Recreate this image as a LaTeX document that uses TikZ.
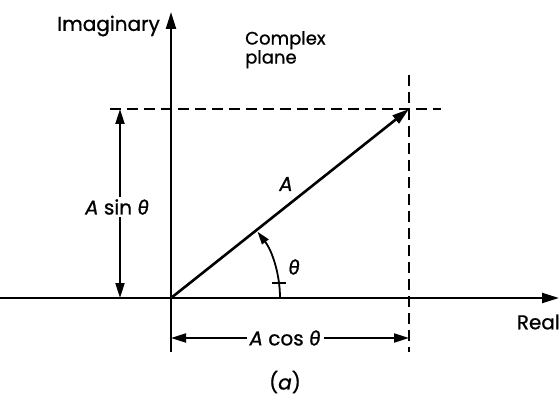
\documentclass[tikz,border=0pt]{standalone}
\usepackage{fontspec}
\setmainfont{Poppins}[FakeBold=0.9]
\newfontfamily\grk{Fira Sans}[FakeBold=0.9]
\usetikzlibrary{arrows.meta}
\tikzset{
  ln/.style={line width=2.3pt},
  dsh/.style={line width=2pt, dash pattern=on 11pt off 6pt},
  tip/.style={-{Triangle[length=17pt,width=10pt]}},
  tips/.style={{Triangle[length=15pt,width=9pt]}-{Triangle[length=15pt,width=9pt]}},
  lbl/.style={font=\fontsize{20}{22}\selectfont, inner sep=2pt},
}
\newcommand{\mytheta}{{\grk\itshape θ}}
\begin{document}
\begin{tikzpicture}[x=1pt,y=1pt]
\useasboundingbox (0,0) rectangle (559,402);
% key points
\coordinate (O) at (171,104);
\coordinate (V) at (409,293);
\coordinate (Itop) at (171,390);
\coordinate (Ibot) at (171,50);
\coordinate (Rl) at (0,104);
\coordinate (Rr) at (559,104);
\coordinate (Hl) at (110,293);
\coordinate (Hr) at (441,293);
\coordinate (Vt) at (409,327);
\coordinate (Vb) at (409,50);
\coordinate (Sa) at (120,293);
\coordinate (Sb) at (120,104);
\coordinate (Ca) at (171,64);
\coordinate (Cb) at (409,64);
% axes
\draw[ln] (Ibot) -- (O);
\draw[ln,tip] (O) -- (Itop);
\draw[ln,tip] (Rl) -- (Rr);
% dashed
\draw[dsh] (Hl) -- (Hr);
\draw[dsh] (Vt) -- (Vb);
% vector
\draw[line width=2.6pt,tip] (O) -- (V);
% angle arc
\draw[line width=1.8pt,-{Triangle[length=13pt,width=8pt]}] ([shift={(0:109)}]O) arc[start angle=0,end angle=37.5,radius=109];
\coordinate (T) at ([shift={(8:109)}]O);
\draw[line width=1.6pt] ([xshift=-7pt]T) -- ([xshift=7pt]T);
% dimension lines
\draw[line width=2pt,tips] (Sa) -- (Sb);
\draw[line width=2pt,tips] (Ca) -- (Cb);
% labels
\node[lbl, anchor=east] (imag) at (162,376) {Imaginary};
\node[lbl, anchor=north west, align=left, font=\fontsize{18}{19}\selectfont] (cplx) at (243,373) {Complex\\plane};
\node[lbl, anchor=east] (real) at (562,80) {Real};
\node[lbl, fill=white, inner xsep=3pt] (asin) at (117,195) {\itshape A\upshape\ sin \mytheta};
\node[lbl, fill=white, inner xsep=3pt] (acos) at (285,64) {\itshape A\upshape\ cos \mytheta};
\node[lbl] (alab) at (286,218) {\itshape A};
\node[lbl] (thl) at (294,135) {\mytheta};
\node[lbl] (cap) at (285,20) {(\itshape a\upshape)};
\end{tikzpicture}
\end{document}
